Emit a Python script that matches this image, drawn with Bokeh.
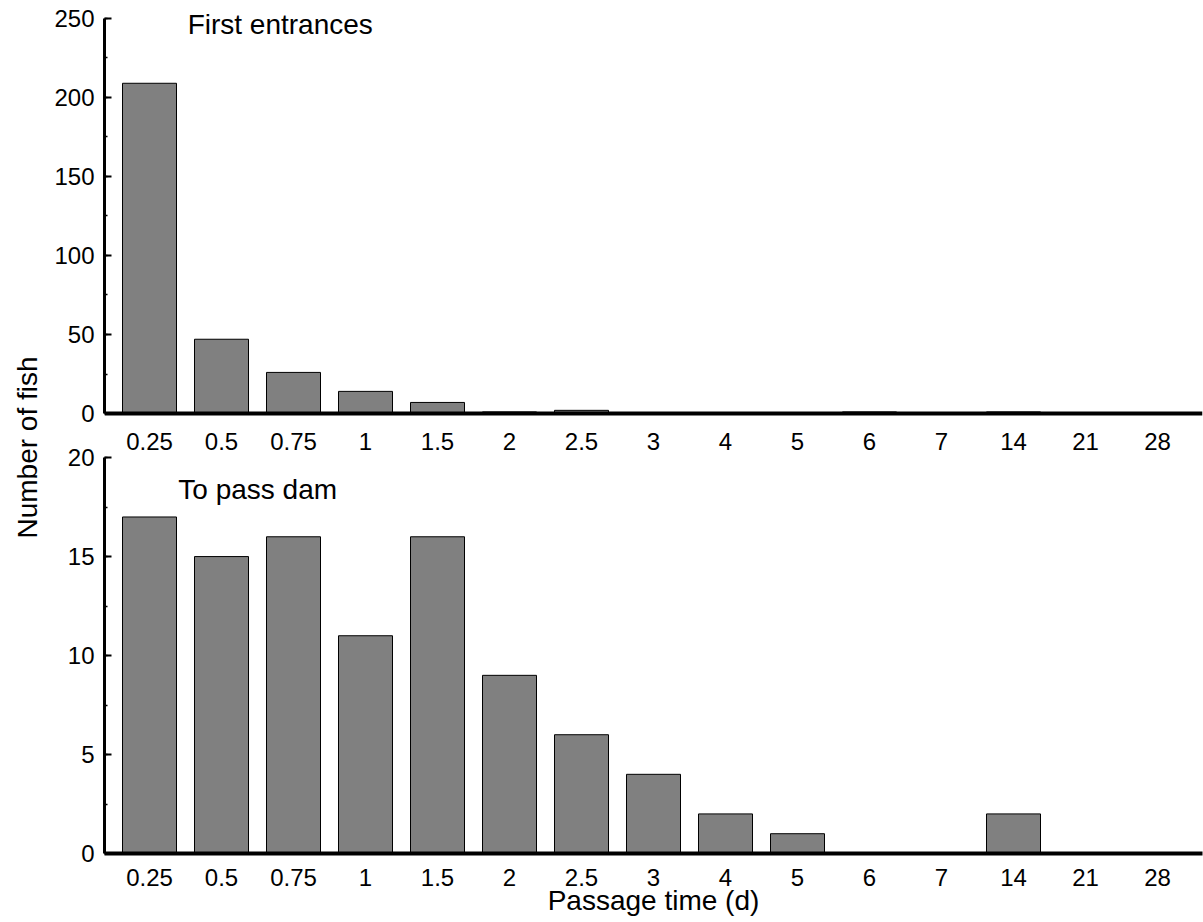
import math
from bokeh.plotting import figure
from bokeh.models import (Range1d, FixedTicker, SingleIntervalTicker, Span, Label,
                          ColumnDataSource)
from bokeh.layouts import row, column
from bokeh.embed import file_html
from bokeh.resources import INLINE
from bokeh.core.properties import value

# ---------------- data ----------------
categories = ["0.25", "0.5", "0.75", "1", "1.5", "2", "2.5", "3", "4", "5",
              "6", "7", "14", "21", "28"]
first_entrances = [209, 47, 26, 14, 7, 1, 2, 0, 0, 0, 1, 0, 1, 0, 0]
to_pass_dam = [17, 15, 16, 11, 16, 9, 6, 4, 2, 1, 0, 0, 2, 0, 0]
top_interval = 50
top_max = 250
bottom_interval = 5
bottom_max = 20

FONT = "Liberation Sans"
TICK_SIZE = "24px"
TITLE_SIZE = "28px"
BAR_COLOR = "#808080"

idx = list(range(len(categories)))
X_RANGE = (-0.625, len(categories) - 0.375)


def style_common(p):
    p.outline_line_color = None
    p.grid.visible = False
    p.background_fill_color = "white"
    p.border_fill_color = "white"


def style_yaxis(ax, interval, vmax):
    ax.ticker = SingleIntervalTicker(interval=interval, num_minor_ticks=2)
    ax.bounds = (0, vmax)
    ax.axis_line_width = 3
    ax.axis_line_color = "black"
    ax.major_tick_in = 7
    ax.major_tick_out = 0
    ax.minor_tick_in = 3
    ax.minor_tick_out = 0
    ax.major_tick_line_width = 2
    ax.minor_tick_line_width = 1.5
    ax.major_label_standoff = 10
    ax.major_label_text_font = FONT
    ax.major_label_text_font_size = TICK_SIZE
    ax.major_label_text_color = "black"


# ---------------- top panel (First entrances) ----------------
top = figure(width=1158, height=427,
             x_range=Range1d(*X_RANGE), y_range=Range1d(-8.86, 261.39),
             x_axis_location=None, output_backend="svg", toolbar_location=None,
             min_border_left=59, min_border_right=1, min_border_top=0,
             min_border_bottom=0)
style_common(top)
src_top = ColumnDataSource(dict(x=idx, top=first_entrances, label=categories))
top.vbar(x="x", top="top", bottom=0, width=0.75, source=src_top,
         fill_color=BAR_COLOR, line_color="black", line_width=1)
top.add_layout(Span(location=0, dimension="width", line_color="black",
                    line_width=4))
style_yaxis(top.yaxis[0], top_interval, top_max)
top.add_layout(Label(x=0.53, y=246.5, text="First entrances", text_font=FONT,
                     text_font_size=TITLE_SIZE, text_align="left",
                     text_baseline="middle", text_color="black"))

# ---------------- bottom panel (To pass dam) ----------------
bottom = figure(width=1158, height=495,
                x_range=Range1d(*X_RANGE), y_range=Range1d(0, 21.52),
                output_backend="svg", toolbar_location=None,
                min_border_left=59, min_border_right=1, min_border_top=0,
                min_border_bottom=69)
style_common(bottom)
src_bot = ColumnDataSource(dict(x=idx, top=to_pass_dam, label=categories))
bottom.vbar(x="x", top="top", bottom=0, width=0.75, source=src_bot,
            fill_color=BAR_COLOR, line_color="black", line_width=1)
# category labels of the upper panel's x axis (sit just under its axis line)
bottom.text(x="x", y=20.81, text="label", source=src_bot,
            text_font=value(FONT), text_font_size=TICK_SIZE,
            text_align="center", text_baseline="middle", text_color="black")
style_yaxis(bottom.yaxis[0], bottom_interval, bottom_max)
xa = bottom.xaxis[0]
xa.ticker = FixedTicker(ticks=idx)
xa.major_label_overrides = {i: c for i, c in zip(idx, categories)}
xa.axis_line_width = 4
xa.axis_line_color = "black"
xa.major_tick_in = 0
xa.major_tick_out = 0
xa.minor_tick_in = 0
xa.minor_tick_out = 0
xa.major_label_standoff = 15
xa.major_label_text_font = FONT
xa.major_label_text_font_size = TICK_SIZE
xa.major_label_text_color = "black"
xa.axis_label = "Passage time (d)"
xa.axis_label_text_font = FONT
xa.axis_label_text_font_size = TITLE_SIZE
xa.axis_label_text_font_style = "normal"
xa.axis_label_text_color = "black"
xa.axis_label_standoff = -4
bottom.add_layout(Label(x=0.40, y=18.4, text="To pass dam", text_font=FONT,
                        text_font_size=TITLE_SIZE, text_align="left",
                        text_baseline="middle", text_color="black"))

# ---------------- shared y label ----------------
lab = figure(width=45, height=922, x_range=Range1d(0, 45),
             y_range=Range1d(0, 922), x_axis_location=None,
             y_axis_location=None, output_backend="svg",
             toolbar_location=None, min_border=0)
style_common(lab)
lab.add_layout(Label(x=27, y=922 - 447, text="Number of fish",
                     angle=math.pi / 2, text_font=FONT,
                     text_font_size=TITLE_SIZE, text_align="center",
                     text_baseline="middle", text_color="black"))

layout = row(lab, column(top, bottom, spacing=0), spacing=0)
open("out.html", "w").write(file_html(layout, INLINE))
